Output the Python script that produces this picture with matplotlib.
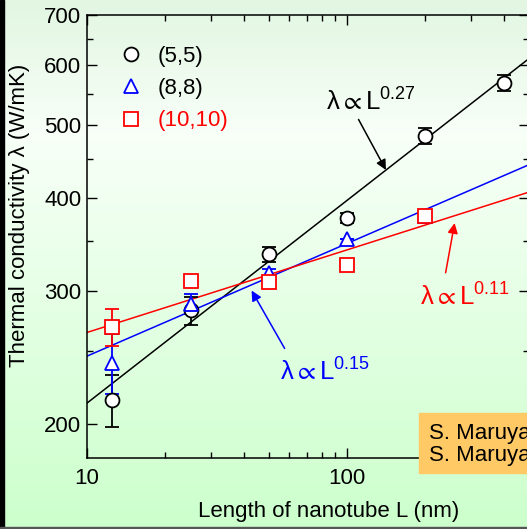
import numpy as np
import matplotlib
matplotlib.use("Agg")
import matplotlib.pyplot as plt
from matplotlib.lines import Line2D
from matplotlib.patches import Rectangle
from matplotlib.colors import LinearSegmentedColormap

plt.rcParams['font.family'] = ['Liberation Sans', 'DejaVu Sans']
plt.rcParams['mathtext.fontset'] = 'custom'
plt.rcParams['mathtext.rm'] = 'Liberation Sans'
plt.rcParams['mathtext.it'] = 'Liberation Sans:italic'
plt.rcParams['mathtext.default'] = 'regular'

# data
L55 = [12.5, 25, 50, 100, 200, 400]
lam55 = [215, 283, 336, 376, 483, 568]
err55 = [17, 12, 8, 6, 12, 14]

L88 = [12.5, 25, 50, 100, 200]
lam88 = [241, 289, 317, 352, 378]
err88 = [22, 9, 4, 0, 0]

L1010 = [12.5, 25, 50, 100, 200]
lam1010 = [269, 310, 309, 325, 378]
err1010 = [15, 0, 0, 0, 0]

# power law fits  lambda = A * L^n
fit_n = [0.27, 0.15, 0.11]
fit_at10 = [213, 246, 264.5]
fit_colors = ['black', 'blue', 'red']
labels = ['(5,5)', '(8,8)', '(10,10)']

fig = plt.figure(figsize=(5.27, 5.29), dpi=100)

# background gradient
bg = fig.add_axes([0, 0, 1, 1], zorder=-10)
cmap = LinearSegmentedColormap.from_list(
    'g', [(0.0, '#CCFFCC'), (0.75, '#F8FFF8'), (1.0, '#E2F6E2')])
grad = np.linspace(0, 1, 256).reshape(-1, 1)
bg.imshow(grad, aspect='auto', cmap=cmap, origin='lower', extent=[0, 1, 0, 1])
bg.set_axis_off()
fig.patches.append(Rectangle((0, 0), 0.007, 1, transform=fig.transFigure,
                             color='black', zorder=5))
fig.patches.append(Rectangle((0, 0), 1, 0.004, transform=fig.transFigure,
                             color='#555555', zorder=5))

ax = fig.add_axes([87 / 527, 1 - 458 / 529, 442 / 527, 443 / 529])
ax.patch.set_alpha(0)
ax.set_xscale('log')
ax.set_yscale('log')
ax.set_xlim(10, 500)
ax.set_ylim(180, 700)

xx = np.array([10, 500])
for n, a10, c in zip(fit_n, fit_at10, fit_colors):
    ax.plot(xx, a10 * (xx / 10) ** n, color=c, lw=1.1, zorder=2)

ax.errorbar(L55, lam55, yerr=err55, fmt='o', ms=10, mfc='white', mec='black',
            mew=1.3, ecolor='black', elinewidth=1.3, capsize=5, capthick=1.3, zorder=3)
ax.errorbar(L88, lam88, yerr=err88, fmt='^', ms=10, mfc='white', mec='blue',
            mew=1.3, ecolor='blue', elinewidth=1.3, capsize=5, capthick=1.3, zorder=3)
ax.errorbar(L1010, lam1010, yerr=err1010, fmt='s', ms=9.5, mfc='white', mec='red',
            mew=1.3, ecolor='red', elinewidth=1.3, capsize=5, capthick=1.3, zorder=3)

yt = [200, 300, 400, 500, 600, 700]
ax.set_yticks(yt)
ax.set_yticklabels([str(v) for v in yt])
ax.set_yticks([250, 350, 450, 550, 650], minor=True)
ax.yaxis.set_minor_formatter(plt.NullFormatter())
ax.set_xticks([10, 100])
ax.set_xticklabels(['10', '100'])
ax.tick_params(which='both', direction='in', top=True, right=True, labelsize=16)
ax.tick_params(which='major', length=7, width=1)
ax.tick_params(which='minor', length=4, width=1)
ax.tick_params(axis='y', which='major', pad=4)
ax.tick_params(axis='x', which='major', pad=7)
for s in ax.spines.values():
    s.set_linewidth(1.1)

handles = [
    Line2D([], [], ls='none', marker='o', ms=10, mfc='white', mec='black', mew=1.3),
    Line2D([], [], ls='none', marker='^', ms=10, mfc='white', mec='blue', mew=1.3),
    Line2D([], [], ls='none', marker='s', ms=9.5, mfc='white', mec='red', mew=1.3),
]
leg = ax.legend(handles, labels, loc='upper left', bbox_to_anchor=(0.025, 0.975),
                frameon=False, fontsize=16, handlelength=1.2, handletextpad=0.6,
                labelspacing=0.5, labelcolor=['black', 'black', 'red'])

ts = 18.5
ax.text(83, 522, r'$\lambda\propto L^{0.27}$', fontsize=ts, color='black')
ax.annotate('', xy=(142.6, 432), xytext=(109.3, 512),
            arrowprops=dict(arrowstyle='-|>', color='black', lw=1.1, mutation_scale=15))
ax.text(55, 228, r'$\lambda\propto L^{0.15}$', fontsize=ts, color='blue')
ax.annotate('', xy=(42.4, 303), xytext=(58.2, 250),
            arrowprops=dict(arrowstyle='-|>', color='blue', lw=1.1, mutation_scale=15))
ax.text(191, 287, r'$\lambda\propto L^{0.11}$', fontsize=ts, color='red')
ax.annotate('', xy=(260, 373), xytext=(238, 315),
            arrowprops=dict(arrowstyle='-|>', color='red', lw=1.1, mutation_scale=15))

fig.text(20 / 527, 1 - 215 / 529, 'Thermal conductivity λ (W/mK)', rotation=90,
         ha='center', va='center', fontsize=16)
fig.text(329 / 527, 1 - 512 / 529, 'Length of nanotube L (nm)',
         ha='center', va='center', fontsize=16)

fig.patches.append(Rectangle((419 / 527, 1 - 473 / 529), 0.3, 60 / 529,
                             transform=fig.transFigure, color='#FFC966', zorder=4))
fig.text(429 / 527, 1 - 433 / 529, 'S. Maruyama', fontsize=16, va='center', zorder=6)
fig.text(429 / 527, 1 - 455 / 529, 'S. Maruyama', fontsize=16, va='center', zorder=6)

fig.savefig('out.png', dpi=100)
